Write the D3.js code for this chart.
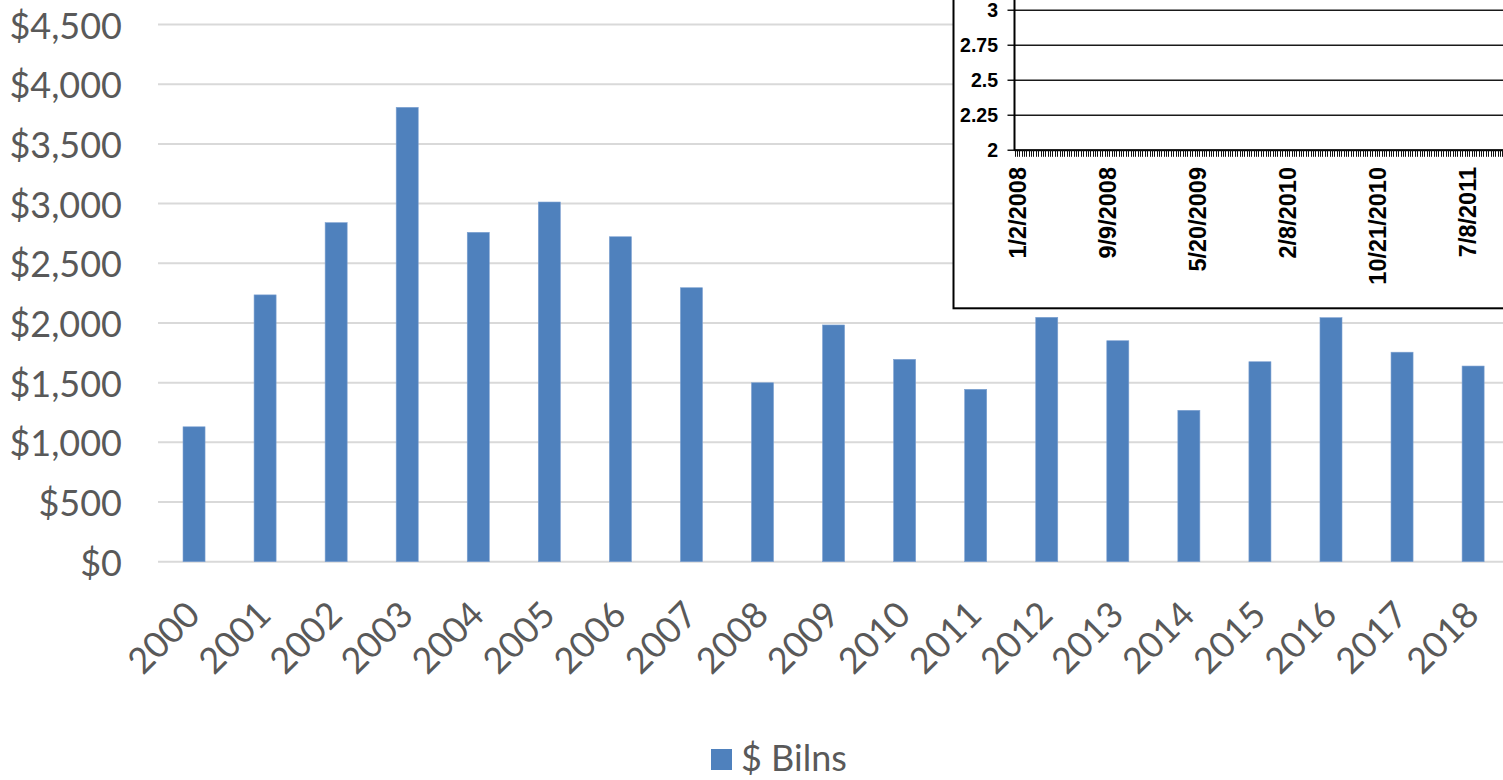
<!DOCTYPE html>
<html>
<head>
<meta charset="utf-8">
<script src="https://cdn.jsdelivr.net/npm/d3@7"></script>
<style>
  html, body { margin: 0; padding: 0; background: #ffffff; }
  svg { display: block; }
</style>
</head>
<body>
<svg id="chart" width="1503" height="780"></svg>
<script>
// Annual totals, in billions of dollars
const years = ["2000","2001","2002","2003","2004","2005","2006","2007","2008","2009",
               "2010","2011","2012","2013","2014","2015","2016","2017","2018"];
const billions = [1130, 2235, 2840, 3806, 2759, 3013, 2722, 2295, 1499, 1983,
                  1695, 1444, 2047, 1851, 1268, 1675, 2044, 1755, 1639];
const yTicks = [0, 500, 1000, 1500, 2000, 2500, 3000, 3500, 4000, 4500];
const seriesName = "$ Bilns";

// Inset panel axes
const insetDates = ["1/2/2008", "9/9/2008", "5/20/2009", "2/8/2010", "10/21/2010", "7/8/2011"];
const insetYTicks = [2, 2.25, 2.5, 2.75, 3];
const minorPerLabel = 38;

const svg = d3.select("#chart");
const W = 1503, H = 780;

// ---------- main bar chart ----------
const x = d3.scaleBand()
  .domain(years)
  .range([158.5, 158.5 + 19 * 71.06])
  .paddingInner(0.69)
  .paddingOuter(0.345);

const y = d3.scaleLinear().domain([0, 4500]).range([561.7, 24.5]);

const main = svg.append("g");

main.append("g")
  .selectAll("line")
  .data(yTicks)
  .join("line")
  .attr("x1", 158).attr("x2", W)
  .attr("y1", d => y(d)).attr("y2", d => y(d))
  .attr("stroke", "#d9d9d9")
  .attr("stroke-width", 2);

const fmt = d3.format(",");
main.append("g")
  .selectAll("text")
  .data(yTicks)
  .join("text")
  .attr("x", 122)
  .attr("y", d => y(d) + 14)
  .attr("text-anchor", "end")
  .attr("font-family", "Lato, 'Open Sans', sans-serif")
  .attr("font-size", 36)
  .attr("fill", "#595959")
  .text(d => "$" + fmt(d));

main.append("g")
  .selectAll("rect")
  .data(years.map((yr, i) => ({ yr, v: billions[i] })))
  .join("rect")
  .attr("x", d => x(d.yr))
  .attr("width", x.bandwidth())
  .attr("y", d => y(d.v))
  .attr("height", d => y(0) - y(d.v))
  .attr("fill", "#4f81bd")
  .attr("stroke", "#7da1d1")
  .attr("stroke-width", 0.6);

main.append("g")
  .selectAll("text")
  .data(years)
  .join("text")
  .attr("transform", d => `translate(${x(d) + x.bandwidth() / 2 + 8},617) rotate(-45)`)
  .attr("text-anchor", "end")
  .attr("font-family", "Lato, 'Open Sans', sans-serif")
  .attr("font-size", 36)
  .attr("fill", "#595959")
  .text(d => d);

// legend
const legend = main.append("g");
legend.append("rect")
  .attr("x", 711).attr("y", 749).attr("width", 21).attr("height", 21)
  .attr("fill", "#4f81bd");
legend.append("text")
  .attr("x", 741).attr("y", 771)
  .attr("font-family", "Lato, 'Open Sans', sans-serif")
  .attr("font-size", 36)
  .attr("fill", "#595959")
  .text(seriesName);

// ---------- inset panel ----------
const inset = svg.append("g");

inset.append("rect")
  .attr("x", 953.5).attr("y", -20)
  .attr("width", 700).attr("height", 328.3)
  .attr("fill", "#ffffff")
  .attr("stroke", "#000000")
  .attr("stroke-width", 2);

const ix = d3.scaleLinear().domain([0, insetDates.length - 1]).range([1017, 1467]);
const iy = d3.scaleLinear().domain([2, 3]).range([150.3, 10.3]);
const axisX = 1014.5;

// horizontal gridlines (the scale continues upward past the top edge)
inset.append("g")
  .selectAll("line")
  .data(insetYTicks.concat([3.25]))
  .join("line")
  .attr("x1", axisX - 7).attr("x2", W + 10)
  .attr("y1", d => iy(d)).attr("y2", d => iy(d))
  .attr("stroke", "#1a1a1a")
  .attr("stroke-width", 1.5);

inset.append("g")
  .selectAll("text")
  .data(insetYTicks)
  .join("text")
  .attr("x", 998)
  .attr("y", d => iy(d) + 7)
  .attr("text-anchor", "end")
  .attr("font-family", "'Liberation Sans', Arial, sans-serif")
  .attr("font-weight", "bold")
  .attr("font-size", 19.5)
  .attr("fill", "#000000")
  .text(d => String(d));

// axis lines
inset.append("line")
  .attr("x1", axisX).attr("x2", axisX)
  .attr("y1", -20).attr("y2", iy(2))
  .attr("stroke", "#000000").attr("stroke-width", 2);
inset.append("line")
  .attr("x1", axisX).attr("x2", W + 10)
  .attr("y1", iy(2)).attr("y2", iy(2))
  .attr("stroke", "#000000").attr("stroke-width", 2);

// dense minor ticks along the date axis
const minorStep = 1 / minorPerLabel;
const minorTicks = d3.range(ix.invert(axisX), ix.invert(W + 5), minorStep);
inset.append("g")
  .selectAll("line")
  .data(minorTicks)
  .join("line")
  .attr("x1", d => Math.round(ix(d)) + 0.5).attr("x2", d => Math.round(ix(d)) + 0.5)
  .attr("y1", iy(2)).attr("y2", iy(2) + 6.5)
  .attr("stroke", "#111111")
  .attr("stroke-width", 1);

// date labels
inset.append("g")
  .selectAll("text")
  .data(insetDates)
  .join("text")
  .attr("transform", (d, i) => `translate(${ix(i) + 8.5},167) rotate(-90)`)
  .attr("text-anchor", "end")
  .attr("font-family", "'Liberation Sans', Arial, sans-serif")
  .attr("font-weight", "bold")
  .attr("font-size", 23.5)
  .attr("fill", "#000000")
  .text(d => d);
</script>
</body>
</html>
